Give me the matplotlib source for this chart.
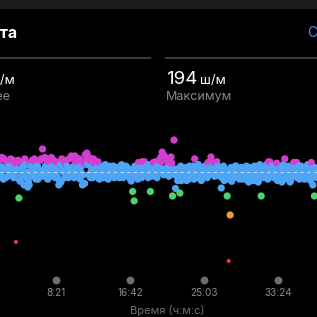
import numpy as np
import matplotlib.pyplot as plt

plt.rcParams['font.family'] = ['Inter', 'DejaVu Sans']

# Каденс (шагов в минуту), одна точка каждые 10 с начиная со 110 с
cadence = [
    172, 180, 170, 175, 181, 168, 173, 179, 171, 176,
    180, 169, 123.7, 174, 154, 165.5, 178, 171, 181, 168,
    161.5, 163, 176, 180, 170, 174, 179, 167, 172, 181,
    187.8, 170, 176, 180, 168, 173, 182, 171, 175, 179,
    169, 163, 177, 181, 172, 168, 180, 174, 168.5, 182,
    171, 176, 183, 169, 175, 181, 172, 163, 178, 184,
    185, 170, 180, 173, 168, 178, 171, 175, 168, 174,
    170, 176, 172, 168, 175, 171, 173, 169, 176, 172,
    170, 174, 168, 176, 171, 173, 169, 175, 172, 170,
    165.7, 158.5, 152, 174, 170, 178.5, 172, 168, 175, 179,
    171, 173, 177, 158.5, 169, 178.5, 174, 170, 176, 180,
    182, 185.7, 170, 181, 175, 179, 172, 182.3, 155.4, 194,
    160.6, 170, 168, 157.4, 166, 173, 169, 175, 171, 167,
    174, 170, 176, 181, 172, 168, 175, 171, 173, 169,
    176, 172, 178.5, 170, 182.3, 174, 178.5, 171, 179, 175,
    169, 160.9, 173, 166, 171, 155.4, 110.6, 142.3, 165.5, 174,
    170, 176, 168, 173, 171, 175, 167, 172, 176, 169,
    173, 170, 175, 166, 174, 171, 165, 177, 155.4, 172,
    168, 175, 171, 179, 178.8, 173, 169, 176, 170, 166,
    174, 171, 165, 177, 181, 172, 168, 175, 166, 173,
    178.5, 170, 178.5, 174, 167, 176, 171, 169, 175, 172,
    168, 176, 178.5, 163, 155.4, 172, 170,
]
# промежуточные отсчёты (сдвиг 5 с)
cadence_mid = [
    177, 170, 182, 167, 174, 179, 169, 176, 181, 172,
    168, 178, 173, 180, 166, 170, 175, 163, 177, 172,
    165, 178, 169, 174, 181, 167, 176, 171, 180, 173,
    169, 182, 174, 167, 179, 171, 176, 180, 168, 173,
    178, 166, 165, 173, 179, 170, 176, 168, 181, 183,
    174, 168, 179, 172, 180, 167, 176, 170, 164, 180,
    177, 182, 168, 175, 181, 169, 173, 179, 167, 172,
    174, 168, 177, 170, 167, 176, 172, 174, 168, 171,
    175, 169, 173, 177, 168, 172, 176, 170, 174, 167,
    173, 169, 176, 171, 167, 175, 173, 179, 170, 172,
    176, 168, 174, 170, 177, 172, 179, 168, 173, 175,
    179, 171, 183, 174, 180, 169, 176, 178, 172, 170,
    174, 166, 172, 176, 170, 168, 174, 166, 172, 176,
    169, 173, 167, 175, 170, 177, 172, 166, 174, 170,
    173, 168, 175, 179, 171, 177, 169, 173, 176, 170,
    174, 168, 176, 171, 167, 173, 170, 175, 168, 172,
    176, 169, 173, 167, 175, 171, 174, 168, 170, 165,
    175, 168, 172, 176, 169, 173, 167, 175, 170, 174,
    171, 177, 167, 173, 170, 176, 168, 174, 178, 171,
    168, 175, 172, 167, 174, 170, 176, 165, 173, 169,
    175, 171, 168, 176, 172, 170, 174, 167, 173, 177,
    171, 166, 174, 170, 175, 168, 173,
]
t_start, t_step = 110, 10
avg_cadence = 172
max_cadence = 194

# зоны цвета (нижние границы)
zone_limits = [0, 135, 150, 160, 177.5]
zone_colors = ['#e5383b', '#f0963c', '#4cd26a', '#4ea4f5', '#d23fd0']

tick_secs = [501, 1002, 1503, 2004]
tick_labels = ['8:21', '16:42', '25:03', '33:24']

W = H = 317
fig = plt.figure(figsize=(W / 100, H / 100), dpi=100, facecolor='black')
ax = fig.add_axes([0, 0, 1, 1], facecolor='black')
ax.set_xlim(122, 2268)
ax.set_ylim(194 - 177 / 1.45, 194 + 140 / 1.45)
ax.axis('off')

t1 = t_start + t_step * np.arange(len(cadence))
t2 = t1[:len(cadence_mid)] + t_step / 2
times = np.concatenate([t1, t2])
vals = np.concatenate([cadence, cadence_mid])
order = np.argsort(times, kind='stable')
times, vals = times[order], vals[order]
zone = np.searchsorted(zone_limits, vals, side='right') - 1
cols = [zone_colors[z] for z in zone]
sizes = [9 if z == 0 else 27 for z in zone]
ax.scatter(times, vals, s=sizes, c=cols, linewidths=0, zorder=3)

ax.axhline(avg_cadence, color='#e6f0ff', lw=0.8, dashes=(3, 3), alpha=0.75, zorder=4)

# ось времени
tr = ax.get_xaxis_transform()
ax.scatter(tick_secs, [1 - 280 / H] * len(tick_secs), s=32, color='#6e6e70',
           linewidths=0, transform=tr, zorder=3)
for ts, lab in zip(tick_secs, tick_labels):
    ax.text(ts, 1 - 293 / H, lab, transform=tr, ha='center', va='center',
            color='#8a8a8e', fontsize=7.2)
fig.text(167 / W, 1 - 311 / H, 'Время (ч:м:с)', ha='center', va='center',
         color='#6e6e72', fontsize=8)


def fy(y):
    return 1 - y / H


# верхняя полоса и разделитель
fig.patches.append(plt.Rectangle((0, fy(8)), 1, 8 / H, transform=fig.transFigure,
                                 color='#1c1c1e', zorder=0))
fig.add_artist(plt.Line2D([0, 150 / W], [fy(57.5)] * 2, color='#3a3a3c', lw=1.6))
fig.add_artist(plt.Line2D([166 / W, 1], [fy(57.5)] * 2, color='#3a3a3c', lw=1.6))

fig.text(17 / W, fy(33), 'Частота', ha='right', va='center', color='white',
         fontsize=11.5, fontweight='bold')
fig.text(307 / W, fy(33), 'Сл', ha='left', va='center', color='#3f8ef0',
         fontsize=10)

fig.text(166 / W, fy(84), str(max_cadence), ha='left', va='baseline', color='white',
         fontsize=13.5)
fig.text(200 / W, fy(84), 'ш/м', ha='left', va='baseline', color='white',
         fontsize=9.5)
fig.text(166 / W, fy(100), 'Максимум', ha='left', va='baseline', color='#8a8a8e',
         fontsize=9)
fig.text(15 / W, fy(84), 'ш/м', ha='right', va='baseline', color='white',
         fontsize=9.5)
fig.text(10 / W, fy(100), 'Среднее', ha='right', va='baseline', color='#8a8a8e',
         fontsize=9)

fig.savefig('out.png', dpi=100, facecolor='black')
